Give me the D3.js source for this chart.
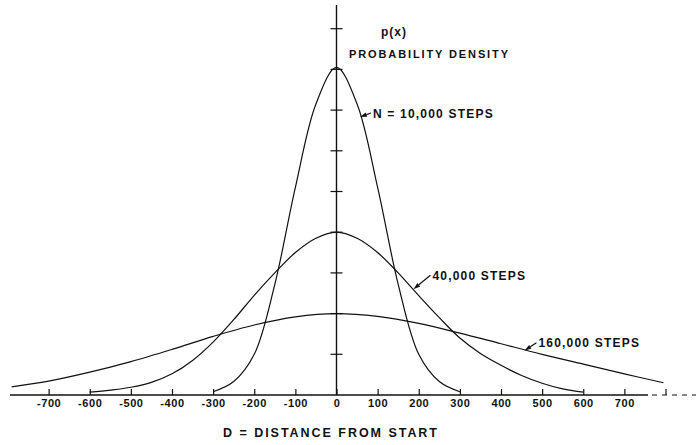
<!DOCTYPE html>
<html>
<head>
<meta charset="utf-8">
<script src="https://cdn.jsdelivr.net/npm/d3@7"></script>
<style>
  body { margin: 0; background: #fff; }
  svg { display: block; }
  text { font-family: "Liberation Sans", Arial, sans-serif; fill: #111; }
</style>
</head>
<body>
<script>
// readings, y in tick units (one tick = one unit)
const x10k = [-300, -250, -200, -150, -100, -50, 0, 50, 100, 150, 200, 250, 300];
const y10k = [0.08, 0.33, 1.0, 2.72, 5.1, 7.15, 8.05, 7.15, 5.1, 2.72, 1.0, 0.33, 0.08];

const x40k = [-600, -550, -500, -450, -400, -350, -300, -250, -200, -150, -100, -50, 0,
  50, 100, 150, 200, 250, 300, 350, 400, 450, 500, 550, 600];
const y40k = [0.07, 0.12, 0.19, 0.31, 0.52, 0.85, 1.3, 1.85, 2.45, 3.0, 3.5, 3.85, 4.0,
  3.85, 3.5, 3.0, 2.44, 1.9, 1.4, 1.02, 0.73, 0.48, 0.29, 0.15, 0.07];

const x160k = [-790, -700, -600, -500, -400, -300, -200, -100, 0, 100, 200, 300, 400, 500, 600, 700, 795];
const y160k = [0.2, 0.34, 0.56, 0.82, 1.12, 1.44, 1.72, 1.92, 2.0, 1.93, 1.76, 1.52, 1.26, 1.0, 0.76, 0.52, 0.3];

const xTickValues = [-700, -600, -500, -400, -300, -200, -100, 0, 100, 200, 300, 400, 500, 600, 700, 800];
const xTickLabels = ["-700", "-600", "-500", "-400", "-300", "-200", "-100", "0",
  "100", "200", "300", "400", "500", "600", "700", ""];
const yTickValues = [1, 2, 3, 4, 5, 6, 7, 8, 9];

// curve labels: text, arrow tip [x, y] on the curve
const curveLabels = ["N = 10,000 STEPS", "40,000 STEPS", "160,000 STEPS"];
const labelTips = [[57, 6.83], [187, 2.6], [457, 1.09]];

const width = 696, height = 445;

const svg = d3.select('body').append('svg')
  .attr('width', width)
  .attr('height', height);

const x = d3.scaleLinear().domain([-800, 800]).range([7.5, 665.5]);
const y = d3.scaleLinear().domain([0, 9]).range([395, 28.7]);

// x axis line, solid then dashed at the right end
svg.append('line')
  .attr('x1', 10).attr('x2', 648)
  .attr('y1', y(0)).attr('y2', y(0))
  .attr('stroke', '#111').attr('stroke-width', 1.4);
svg.append('line')
  .attr('x1', 652).attr('x2', 696)
  .attr('y1', y(0)).attr('y2', y(0))
  .attr('stroke', '#111').attr('stroke-width', 1.2)
  .attr('stroke-dasharray', '5,5');

const xAxis = d3.axisBottom(x)
  .tickValues(xTickValues)
  .tickFormat((d, i) => xTickLabels[i])
  .tickSizeInner(-6)
  .tickSizeOuter(0)
  .tickPadding(4);

svg.append('g')
  .attr('transform', `translate(0,${y(0)})`)
  .call(xAxis)
  .call(g => g.select('.domain').remove())
  .call(g => g.selectAll('.tick line').attr('stroke', '#111').attr('stroke-width', 1.2))
  .call(g => g.selectAll('.tick text')
    .attr('font-size', 11)
    .attr('font-weight', 'bold')
    .attr('letter-spacing', 0.6)
    .style('font-family', '"Liberation Sans", Arial, sans-serif')
    .attr('fill', '#111'));

// y axis at x = 0
svg.append('line')
  .attr('x1', x(0)).attr('x2', x(0))
  .attr('y1', 5).attr('y2', y(0))
  .attr('stroke', '#111').attr('stroke-width', 1.4);

svg.append('g')
  .selectAll('line')
  .data(yTickValues)
  .join('line')
  .attr('x1', x(0) - 6).attr('x2', x(0) + 6)
  .attr('y1', d => y(d)).attr('y2', d => y(d))
  .attr('stroke', '#111').attr('stroke-width', 1.2);

// curves
const line = d3.line()
  .x(d => x(d[0]))
  .y(d => y(d[1]))
  .curve(d3.curveCatmullRom.alpha(0.5));

const series = [
  d3.zip(x10k, y10k),
  d3.zip(x40k, y40k),
  d3.zip(x160k, y160k)
];

svg.append('g')
  .selectAll('path')
  .data(series)
  .join('path')
  .attr('d', line)
  .attr('fill', 'none')
  .attr('stroke', '#111')
  .attr('stroke-width', 1.2);

// labels with arrows
const labelOffsets = [[11, -4], [17, -14], [12, -8]];
curveLabels.forEach((t, i) => {
  const tipX = x(labelTips[i][0]), tipY = y(labelTips[i][1]);
  const tailX = tipX + labelOffsets[i][0], tailY = tipY + labelOffsets[i][1];
  const ang = Math.atan2(tipY - tailY, tipX - tailX);
  const len = 7, half = 2.2;
  const bx = tipX - len * Math.cos(ang), by = tipY - len * Math.sin(ang);
  const px = -Math.sin(ang) * half, py = Math.cos(ang) * half;
  svg.append('line')
    .attr('x1', tailX).attr('y1', tailY)
    .attr('x2', bx).attr('y2', by)
    .attr('stroke', '#111').attr('stroke-width', 1.2);
  svg.append('path')
    .attr('d', `M${tipX},${tipY}L${bx + px},${by + py}L${bx - px},${by - py}Z`)
    .attr('fill', '#111');
  svg.append('text')
    .attr('x', tailX + 2)
    .attr('y', tailY + 4.5)
    .attr('font-size', 12)
    .attr('font-weight', 'bold')
    .attr('letter-spacing', 1.2)
    .text(t);
});

// axis titles
svg.append('text')
  .attr('x', 381).attr('y', 35.5)
  .attr('font-size', 12)
  .attr('font-weight', 'bold')
  .attr('letter-spacing', 1)
  .text('p(x)');

svg.append('text')
  .attr('x', 349).attr('y', 57.5)
  .attr('font-size', 11)
  .attr('font-weight', 'bold')
  .attr('textLength', 159)
  .attr('lengthAdjust', 'spacing')
  .text('PROBABILITY DENSITY');

svg.append('text')
  .attr('x', 223).attr('y', 437)
  .attr('font-size', 12.5)
  .attr('font-weight', 'bold')
  .attr('textLength', 214)
  .attr('lengthAdjust', 'spacing')
  .text('D = DISTANCE  FROM  START');
</script>
</body>
</html>
